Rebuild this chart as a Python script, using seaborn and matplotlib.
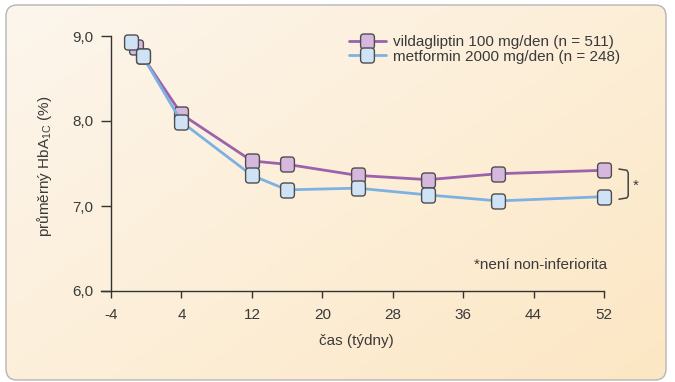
import numpy as np
import pandas as pd
import matplotlib
matplotlib.use("Agg")
import matplotlib.pyplot as plt
import seaborn as sns
from matplotlib.patches import FancyBboxPatch, BoxStyle
from matplotlib.lines import Line2D
from matplotlib.path import Path

# ---- data ----
vilda_weeks = [-1.2, -0.4, 4, 12, 16, 24, 32, 40, 52]
vilda_hba1c = [8.87, 8.76, 8.08, 7.53, 7.49, 7.36, 7.31, 7.38, 7.42]
metf_weeks = [-1.7, -0.4, 4, 12, 16, 24, 32, 40, 52]
metf_hba1c = [8.93, 8.76, 7.99, 7.36, 7.19, 7.21, 7.13, 7.06, 7.11]
series_names = ["vildagliptin 100 mg/den (n = 511)", "metformin 2000 mg/den (n = 248)"]
x_ticks = [-4, 4, 12, 20, 28, 36, 44, 52]
x_ticklabels = ["-4", "4", "12", "20", "28", "36", "44", "52"]
y_ticks = [6.0, 7.0, 8.0, 9.0]
y_ticklabels = ["6,0", "7,0", "8,0", "9,0"]

sns.set_style("white")
plt.rcParams["font.family"] = ["Liberation Sans", "DejaVu Sans"]
plt.rcParams["mathtext.default"] = "regular"
TXT = "#3a3a3a"
FS = 11

fig = plt.figure(figsize=(6.75, 3.82), dpi=100)
fig.patch.set_facecolor("white")

# background with gradient inside rounded box
bg = fig.add_axes([0, 0, 1, 1])
bg.set_xlim(0, 675)
bg.set_ylim(382, 0)
bg.axis("off")
gx = np.linspace(0, 1, 200)
gy = np.linspace(0, 1, 120)
GX, GY = np.meshgrid(gx, gy)
t = np.clip(0.55 * GX + 0.45 * GY, 0, 1)[..., None]
c0 = np.array([253, 246, 237]) / 255
c1 = np.array([252, 231, 196]) / 255
img = c0 * (1 - t) + c1 * t
box = FancyBboxPatch((6, 5), 660, 375, boxstyle="round,pad=0,rounding_size=11",
                     facecolor="none", edgecolor="#b5b5b5", lw=1.0, zorder=3)
im = bg.imshow(img, extent=[6, 666, 380, 5], aspect="auto", zorder=1)
bg.add_patch(box)
clipbox = FancyBboxPatch((6, 5), 660, 375, boxstyle="round,pad=0,rounding_size=11",
                         facecolor="none", edgecolor="none", transform=bg.transData)
im.set_clip_path(clipbox)

# main axes
ax = fig.add_axes([100.5 / 675, 91 / 382, 503.5 / 675, 255 / 382])
ax.patch.set_alpha(0)

rs = BoxStyle.Round(pad=0, rounding_size=0.22)
mpath = rs(-0.46, -0.5, 0.92, 1.0, 1.0)
mpath = Path(mpath.vertices, mpath.codes)

purple_line, purple_fill = "#9c62ac", "#d6b8df"
blue_line, blue_fill = "#7eb1e3", "#d0e2f6"
edge = "#4d4d4d"
MS = 10.8
LW = 2.0

df_v = pd.DataFrame({"week": vilda_weeks, "hba1c": vilda_hba1c})
df_m = pd.DataFrame({"week": metf_weeks, "hba1c": metf_hba1c})

sns.lineplot(data=df_v, x="week", y="hba1c", ax=ax, color=purple_line, lw=LW,
             marker=mpath, markersize=MS, markerfacecolor=purple_fill,
             markeredgecolor=edge, markeredgewidth=1.0, clip_on=False, zorder=4)
sns.lineplot(data=df_m, x="week", y="hba1c", ax=ax, color=blue_line, lw=LW,
             marker=mpath, markersize=MS, markerfacecolor=blue_fill,
             markeredgecolor=edge, markeredgewidth=1.0, clip_on=False, zorder=5)

ax.set_xlim(-5.2, 52)
ax.set_ylim(6.0, 9.0)
ax.spines["left"].set_position(("data", -4))
ax.spines["left"].set_bounds(6.0, 9.0)
ax.spines["top"].set_visible(False)
ax.spines["right"].set_visible(False)
for s in ["left", "bottom"]:
    ax.spines[s].set_color("#333333")
    ax.spines[s].set_linewidth(1.0)

ax.set_xticks(x_ticks)
ax.set_xticklabels(x_ticklabels)
ax.set_yticks(y_ticks)
ax.set_yticklabels(y_ticklabels)
ax.tick_params(axis="y", direction="out", length=7.5, width=1, color="#333333",
               pad=5.5, labelsize=FS, labelcolor=TXT, left=True)
ax.tick_params(axis="x", direction="out", length=5, width=1, color="#333333",
               pad=7, labelsize=FS, labelcolor=TXT, bottom=True)

ax.set_xlabel("čas (týdny)", fontsize=FS, color=TXT)
ax.set_ylabel("průměrný HbA$_{1C}$ (%)", fontsize=FS, color=TXT)
ax.xaxis.set_label_coords(0.508, -0.17)
ax.yaxis.set_label_coords(-0.093, 0.49)

# legend
handles = [
    Line2D([], [], color=purple_line, lw=LW, marker=mpath, markersize=MS,
           markerfacecolor=purple_fill, markeredgecolor=edge, markeredgewidth=1.0),
    Line2D([], [], color=blue_line, lw=LW, marker=mpath, markersize=MS,
           markerfacecolor=blue_fill, markeredgecolor=edge, markeredgewidth=1.0),
]
leg = fig.legend(handles, series_names, loc="upper left",
                 bbox_to_anchor=(349 / 675, 1 - 35 / 382), frameon=False,
                 fontsize=FS, handlelength=2.4, handletextpad=0.5,
                 labelspacing=0.05, borderpad=0, borderaxespad=0, numpoints=1)
for tx in leg.get_texts():
    tx.set_color(TXT)

# bracket and note
ax.plot([53.7, 54.6, 54.75, 54.75, 54.6, 53.7],
        [7.435, 7.42, 7.39, 7.12, 7.095, 7.08], color="#444444", lw=1.1,
        clip_on=False, solid_joinstyle="round")
ax.text(55.3, 7.24, "*", fontsize=FS, color=TXT, ha="left", va="center", clip_on=False)
ax.text(52.4, 6.31, "*není non-inferiorita", fontsize=FS, color=TXT,
        ha="right", va="center")

fig.savefig("out.png", dpi=100)
